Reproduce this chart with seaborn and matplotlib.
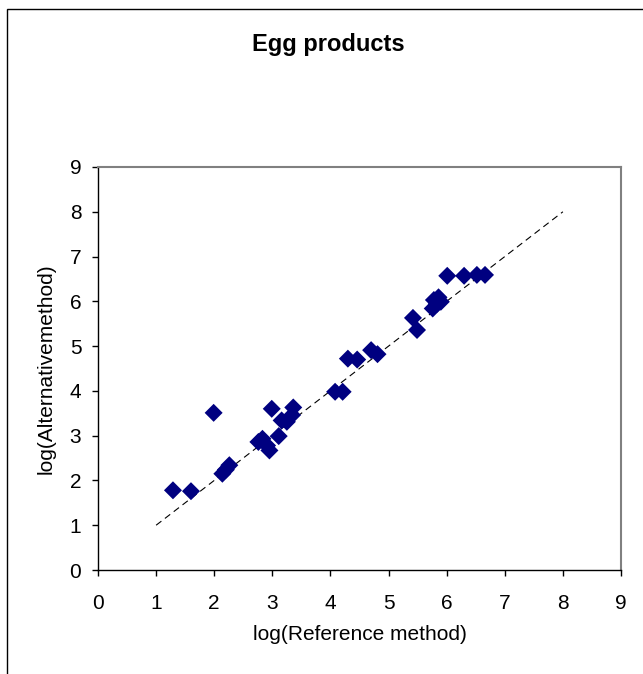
import matplotlib
matplotlib.use("Agg")
import matplotlib.pyplot as plt
import seaborn as sns
import pandas as pd
from matplotlib.patches import Rectangle

ref_log = [1.29, 1.60, 1.99, 2.14, 2.20, 2.26, 2.76, 2.83, 2.91, 2.95, 2.99, 3.11,
           3.16, 3.25, 3.34, 3.36, 4.08, 4.21, 4.30, 4.46, 4.70, 4.81, 5.42, 5.49,
           5.76, 5.78, 5.83, 5.86, 5.90, 6.01, 6.30, 6.52, 6.66]
alt_log = [1.78, 1.76, 3.51, 2.15, 2.24, 2.34, 2.86, 2.93, 2.78, 2.67, 3.60, 2.99,
           3.34, 3.31, 3.46, 3.63, 3.98, 3.98, 4.72, 4.70, 4.91, 4.82, 5.63, 5.36,
           5.84, 6.03, 5.94, 6.09, 5.99, 6.57, 6.57, 6.59, 6.59]
line_x = [1, 8]
line_y = [1, 8]
ticks = [0, 1, 2, 3, 4, 5, 6, 7, 8, 9]

sns.set_style("white")
plt.rcParams['font.family'] = ['Liberation Sans', 'DejaVu Sans']
plt.rcParams['text.color'] = 'black'
plt.rcParams['axes.labelcolor'] = 'black'
plt.rcParams['xtick.color'] = 'black'
plt.rcParams['ytick.color'] = 'black'

fig = plt.figure(figsize=(6.43, 6.74), dpi=100)
W, H = 643, 674
ax = fig.add_axes([98 / W, (H - 570) / H, (621 - 98) / W, (570 - 167) / H])

df = pd.DataFrame({"ref": ref_log, "alt": alt_log})
ax.plot(line_x, line_y, color="black", linestyle=(0, (6, 4)), linewidth=0.8, zorder=1)
sns.scatterplot(data=df, x="ref", y="alt", marker="D", s=84, color="#000080",
                edgecolor="none", linewidth=0, ax=ax, zorder=3)

ax.set_xlim(0, 9)
ax.set_ylim(0, 9)
ax.set_xticks(ticks)
ax.set_yticks(ticks)
ax.set_xticklabels([str(t) for t in ticks], fontsize=15)
ax.set_yticklabels([str(t) for t in ticks], fontsize=15)
ax.tick_params(axis="both", direction="out", length=4, width=1, color="black",
               bottom=True, left=True)
ax.tick_params(axis="x", pad=13)
ax.tick_params(axis="y", pad=8)
ax.set_xlabel("log(Reference method)", fontsize=15, labelpad=9)
ax.set_ylabel("log(Alternativemethod)", fontsize=15, labelpad=10)

for side in ["left", "bottom"]:
    ax.spines[side].set_color("black")
    ax.spines[side].set_linewidth(1.0)
for side in ["top", "right"]:
    ax.spines[side].set_color("#808080")
    ax.spines[side].set_linewidth(1.5)
    ax.spines[side].set_visible(True)

fig.text(328 / W, 1 - 45 / H, "Egg products", ha="center", va="center",
         fontsize=17, fontweight="bold")

fig.patches.append(Rectangle((6.5 / W, -0.1), 1.2, 1 - 9 / H + 0.1, transform=fig.transFigure,
                             fill=False, edgecolor="black", linewidth=1.0))

fig.savefig("out.png", dpi=100)
